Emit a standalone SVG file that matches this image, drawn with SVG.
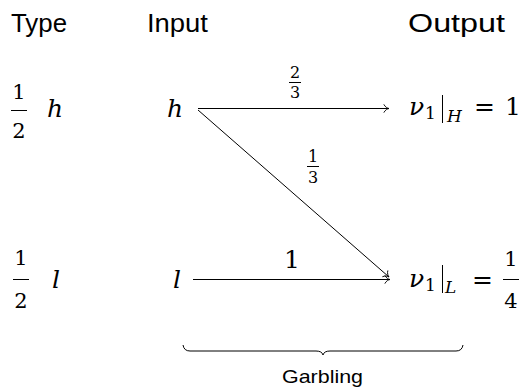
<svg xmlns="http://www.w3.org/2000/svg" width="524" height="389" viewBox="0 0 524 389">
<style>
  .hdr { font-family: "Liberation Sans", Arial, sans-serif; font-size: 25px; fill: #000; }
  .s { font-family: "DejaVu Serif", "Liberation Serif", "Times New Roman", serif; fill: #000; }
  .mi { font-style: italic; font-size: 25px; }
  .mn { font-size: 25px; }
  .fr { font-size: 21px; text-anchor: middle; }
  .sm { font-size: 16px; text-anchor: middle; }
  .sub { font-size: 17px; }
  .subi { font-style: italic; font-size: 17px; }
  .bar { stroke: #000; stroke-width: 1; }
  .edge { stroke: #000; stroke-width: 1; fill: none; marker-end: url(#to); }
</style>
<defs>
  <marker id="to" viewBox="-6 -5 8 10" refX="0" refY="0" markerWidth="8" markerHeight="10" markerUnits="userSpaceOnUse" orient="auto">
    <path d="M-5,-3.8 C-4,-1.5 -1.5,-0.3 0,0 C-1.5,0.3 -4,1.5 -5,3.8" fill="none" stroke="#000" stroke-width="0.9" stroke-linecap="round"/>
  </marker>
</defs>

<g id="headers">
  <text class="hdr" x="11" y="32" textLength="56" lengthAdjust="spacingAndGlyphs">Type</text>
  <text class="hdr" x="147" y="32" textLength="61" lengthAdjust="spacingAndGlyphs">Input</text>
  <text class="hdr" x="408" y="32" textLength="97" lengthAdjust="spacingAndGlyphs">Output</text>
</g>

<g id="type-h">
  <text class="s fr" x="19" y="99">1</text>
  <line class="bar" x1="11" y1="110.5" x2="27" y2="110.5"/>
  <text class="s fr" x="19" y="138">2</text>
  <text class="s mi" x="47" y="117">h</text>
</g>

<g id="type-l">
  <text class="s fr" x="21" y="265">1</text>
  <line class="bar" x1="13" y1="279.5" x2="29" y2="279.5"/>
  <text class="s fr" x="21" y="308">2</text>
  <text class="s mi" x="52" y="288">l</text>
</g>

<g id="input-h">
  <text class="s mi" x="167" y="117">h</text>
</g>

<g id="input-l">
  <text class="s mi" x="173" y="288">l</text>
</g>

<g id="output-H">
  <text class="s mi" x="409" y="115">ν</text>
  <text class="s sub" x="425" y="119">1</text>
  <line class="bar" x1="442.5" y1="95" x2="442.5" y2="123"/>
  <text class="s subi" x="447" y="122">H</text>
  <text class="s mn" x="474" y="115">=</text>
  <text class="s mn" x="505" y="115">1</text>
</g>

<g id="output-L">
  <text class="s mi" x="409" y="287">ν</text>
  <text class="s sub" x="425" y="291">1</text>
  <line class="bar" x1="442.5" y1="265" x2="442.5" y2="293"/>
  <text class="s subi" x="445" y="293">L</text>
  <text class="s mn" x="472" y="288">=</text>
  <text class="s fr" x="511" y="266">1</text>
  <line class="bar" x1="503" y1="279.5" x2="519" y2="279.5"/>
  <text class="s fr" x="511" y="308">4</text>
</g>

<g id="connectors">
  <line class="edge" x1="198" y1="108.5" x2="389" y2="108.5"/>
  <line class="edge" x1="198" y1="110" x2="389" y2="277"/>
  <line class="edge" x1="193" y1="279.5" x2="390" y2="279.5"/>
  <g id="label-23">
    <text class="s sm" x="295" y="78">2</text>
    <line class="bar" x1="289" y1="82.5" x2="301" y2="82.5"/>
    <text class="s sm" x="295" y="98">3</text>
  </g>
  <g id="label-13">
    <text class="s sm" x="313" y="162">1</text>
    <line class="bar" x1="307" y1="166.5" x2="319" y2="166.5"/>
    <text class="s sm" x="313" y="183">3</text>
  </g>
  <text id="label-1" class="s mn" x="284" y="268">1</text>
</g>

<g id="garbling">
  <path d="M183,345 Q184,351 190,351 L316,351 Q322,351 323,355 Q324,351 330,351 L456,351 Q462,351 463,345" fill="none" stroke="#000" stroke-width="1"/>
  <text class="hdr" x="282" y="383" style="font-size:19px" textLength="81" lengthAdjust="spacingAndGlyphs">Garbling</text>
</g>
</svg>
